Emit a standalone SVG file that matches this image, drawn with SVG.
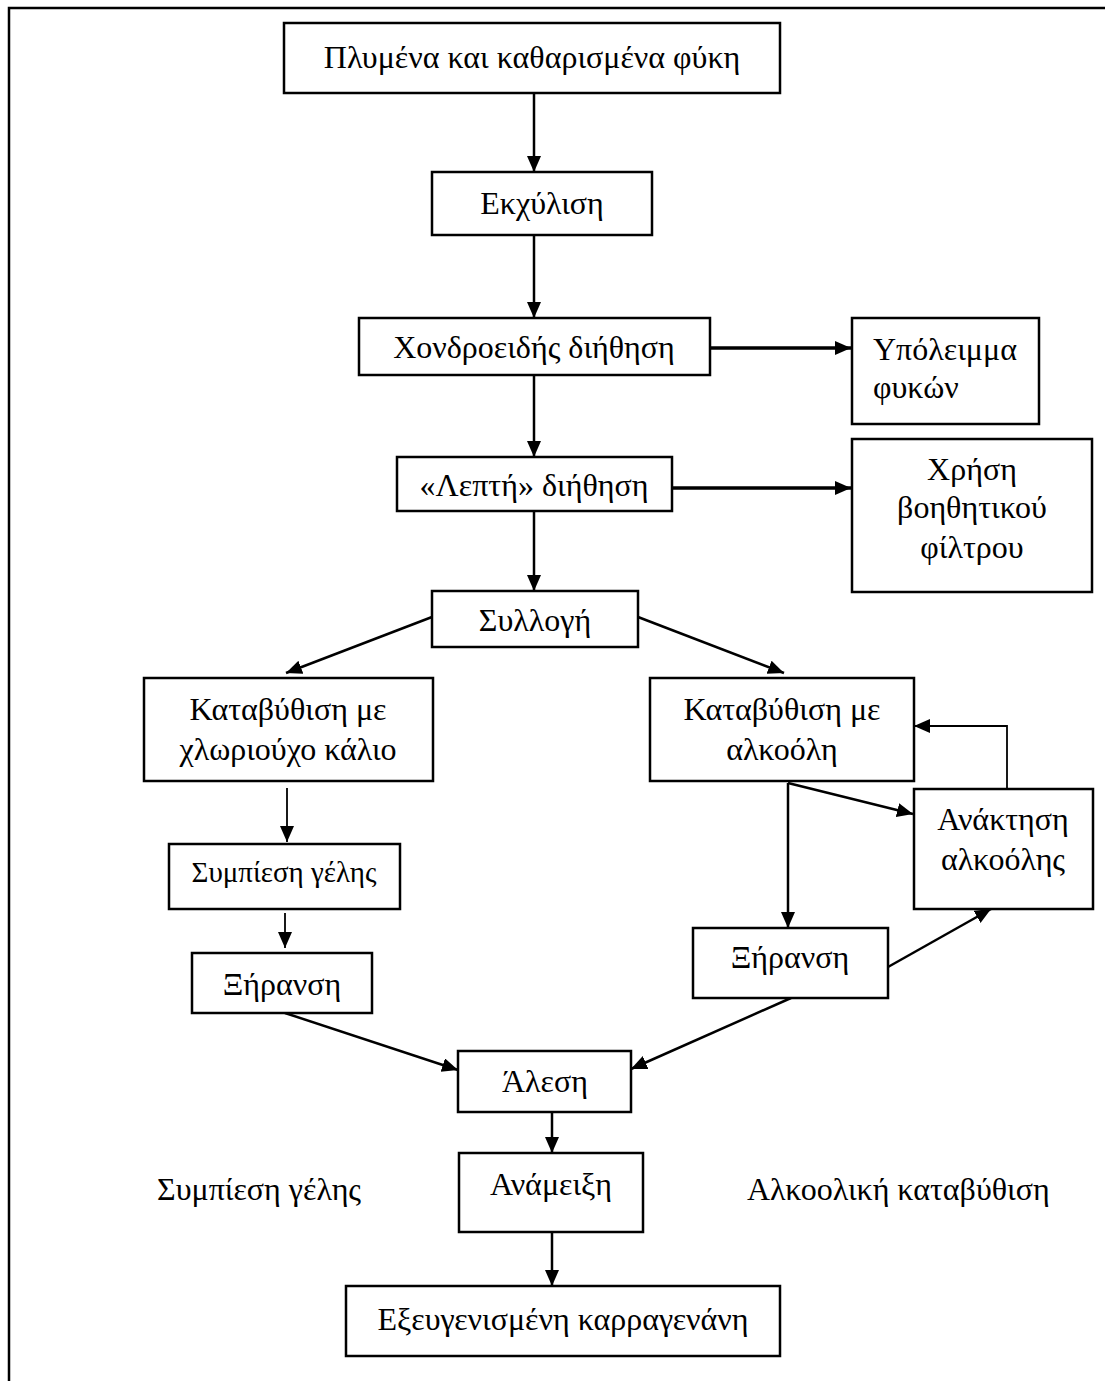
<svg xmlns="http://www.w3.org/2000/svg" width="1105" height="1381" viewBox="0 0 1105 1381">
  <style>
    .box { fill: #fff; stroke: #000; stroke-width: 2.5; }
    .lbl { font-family: "Liberation Serif", "Times New Roman", serif; font-size: 32px; fill: #000; text-anchor: middle; }
    .free { font-family: "Liberation Serif", "Times New Roman", serif; font-size: 32px; fill: #000; }
    .edge { fill: none; stroke: #000; stroke-width: 2.5; }
    .thin { stroke-width: 1.8; }
    .bold { stroke-width: 3.5; }
  </style>
  <defs>
    <marker id="arrow" markerUnits="userSpaceOnUse" markerWidth="18" markerHeight="15" refX="16" refY="7" orient="auto">
      <path d="M0,0 L16,7 L0,14 z" fill="#000"/>
    </marker>
  </defs>

  <rect x="0" y="0" width="1105" height="1381" fill="#fff"/>
  <!-- page frame -->
  <path d="M9,1381 V8 H1105" fill="none" stroke="#000" stroke-width="2.5"/>

  <g id="connectors">
    <line class="edge" x1="534" y1="93" x2="534" y2="172" marker-end="url(#arrow)"/>
    <line class="edge" x1="534" y1="235" x2="534" y2="318" marker-end="url(#arrow)"/>
    <line class="edge bold" x1="710" y1="348" x2="851" y2="348" marker-end="url(#arrow)"/>
    <line class="edge" x1="534" y1="375" x2="534" y2="457" marker-end="url(#arrow)"/>
    <line class="edge bold" x1="672" y1="488" x2="851" y2="488" marker-end="url(#arrow)"/>
    <line class="edge" x1="534" y1="511" x2="534" y2="591" marker-end="url(#arrow)"/>
    <line class="edge" x1="432" y1="617" x2="286" y2="673" marker-end="url(#arrow)"/>
    <line class="edge" x1="638" y1="617" x2="784" y2="673" marker-end="url(#arrow)"/>
    <line class="edge thin" x1="287" y1="788" x2="287" y2="842" marker-end="url(#arrow)"/>
    <line class="edge thin" x1="285" y1="913" x2="285" y2="948" marker-end="url(#arrow)"/>
    <line class="edge" x1="788" y1="783" x2="788" y2="928" marker-end="url(#arrow)"/>
    <line class="edge" x1="788" y1="783" x2="913" y2="814" marker-end="url(#arrow)"/>
    <path class="edge thin" d="M1007,789 V726 H914" marker-end="url(#arrow)"/>
    <line class="edge" x1="888" y1="967" x2="991" y2="909" marker-end="url(#arrow)"/>
    <line class="edge" x1="285" y1="1013" x2="458" y2="1070" marker-end="url(#arrow)"/>
    <line class="edge" x1="791" y1="998" x2="631" y2="1069" marker-end="url(#arrow)"/>
    <line class="edge" x1="552" y1="1112" x2="552" y2="1153" marker-end="url(#arrow)"/>
    <line class="edge" x1="552" y1="1232" x2="552" y2="1286" marker-end="url(#arrow)"/>
  </g>

  <g id="n-washed">
    <rect class="box" x="284" y="23" width="496" height="70"/>
    <text class="lbl" x="532" y="68">Πλυμένα και καθαρισμένα φύκη</text>
  </g>
  <g id="n-extraction">
    <rect class="box" x="432" y="172" width="220" height="63"/>
    <text class="lbl" x="542" y="214">Εκχύλιση</text>
  </g>
  <g id="n-coarse">
    <rect class="box" x="359" y="318" width="351" height="57"/>
    <text class="lbl" x="534" y="358">Χονδροειδής διήθηση</text>
  </g>
  <g id="n-residue">
    <rect class="box" x="852" y="318" width="187" height="106"/>
    <text class="free" x="873" y="360">Υπόλειμμα</text>
    <text class="free" x="873" y="398">φυκών</text>
  </g>
  <g id="n-fine">
    <rect class="box" x="397" y="457" width="275" height="54"/>
    <text class="lbl" x="534" y="496">«Λεπτή» διήθηση</text>
  </g>
  <g id="n-filter">
    <rect class="box" x="852" y="439" width="240" height="153"/>
    <text class="lbl" x="972" y="480">Χρήση</text>
    <text class="lbl" x="972" y="518">βοηθητικού</text>
    <text class="lbl" x="972" y="558">φίλτρου</text>
  </g>
  <g id="n-collection">
    <rect class="box" x="432" y="591" width="206" height="56"/>
    <text class="lbl" x="535" y="631">Συλλογή</text>
  </g>
  <g id="n-kcl">
    <rect class="box" x="144" y="678" width="289" height="103"/>
    <text class="lbl" x="288" y="720">Καταβύθιση με</text>
    <text class="lbl" x="288" y="760">χλωριούχο κάλιο</text>
  </g>
  <g id="n-alcohol">
    <rect class="box" x="650" y="678" width="264" height="103"/>
    <text class="lbl" x="782" y="720">Καταβύθιση με</text>
    <text class="lbl" x="782" y="760">αλκοόλη</text>
  </g>
  <g id="n-recovery">
    <rect class="box" x="914" y="789" width="179" height="120"/>
    <text class="lbl" x="1003" y="830">Ανάκτηση</text>
    <text class="lbl" x="1003" y="870">αλκοόλης</text>
  </g>
  <g id="n-press">
    <rect class="box" x="169" y="844" width="231" height="65"/>
    <text class="lbl" x="284" y="882" style="font-size:29px">Συμπίεση γέλης</text>
  </g>
  <g id="n-dry-left">
    <rect class="box" x="192" y="953" width="180" height="60"/>
    <text class="lbl" x="282" y="995">Ξήρανση</text>
  </g>
  <g id="n-dry-right">
    <rect class="box" x="693" y="928" width="195" height="70"/>
    <text class="lbl" x="790" y="968">Ξήρανση</text>
  </g>
  <g id="n-milling">
    <rect class="box" x="458" y="1051" width="173" height="61"/>
    <text class="lbl" x="545" y="1092">Άλεση</text>
  </g>
  <g id="n-mixing">
    <rect class="box" x="459" y="1153" width="184" height="79"/>
    <text class="lbl" x="551" y="1195">Ανάμειξη</text>
  </g>
  <g id="n-refined">
    <rect class="box" x="346" y="1286" width="434" height="70"/>
    <text class="lbl" x="563" y="1330">Εξευγενισμένη καρραγενάνη</text>
  </g>

  <text class="free" x="157" y="1200">Συμπίεση γέλης</text>
  <text class="free" x="747" y="1200">Αλκοολική καταβύθιση</text>
</svg>
